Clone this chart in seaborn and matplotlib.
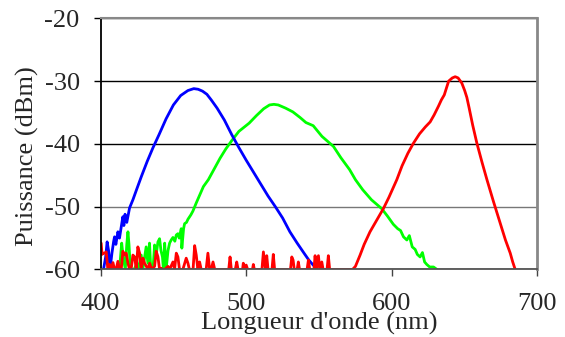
import matplotlib
matplotlib.use("Agg")
import matplotlib.pyplot as plt
import seaborn as sns
import pandas as pd

# ---- data ----
blue_nm = [402, 403.5, 404.5, 405.5, 406.5, 407.8, 409, 409.6, 410.5, 411.9, 413, 414, 415.3, 416, 416.8,
           418, 419.9, 422.2, 425, 428, 432, 436, 440, 445, 450, 455, 460, 464, 467, 470, 473, 476, 480,
           485, 490, 495, 500, 505, 510, 515, 520, 525, 530, 535, 540, 543, 546, 549]
blue_db = [-60, -58, -55.6, -57, -60, -57.4, -55.5, -54.8, -56, -54, -55, -53.5, -51.6, -53, -51.2,
           -52.5, -50.2, -48.9, -47.1, -45.2, -42.8, -40.6, -38.6, -36, -33.8, -32.3, -31.5, -31.2, -31.3,
           -31.6, -32.1, -33, -34.3, -36.2, -38.5, -40.6, -42.6, -44.5, -46.4, -48.3, -50, -51.8, -54,
           -55.8, -57.5, -58.5, -59.3, -60]

green_nm = [413, 414.5, 415.5, 417, 418, 418.8, 419.5, 420.5, 423, 425, 426, 427.9, 429, 431.3, 432.5,
            433.6, 434.5, 436, 437.1, 438, 439.4, 440.5, 441.5, 442.5, 443.2, 444, 445, 446.3, 447.4,
            448.5, 449.7, 451, 452, 453.1, 454, 455.4, 455.8, 457, 457.7, 459, 460, 462, 463.4, 465.7,
            470.6, 474, 478, 482, 486, 490, 495, 502, 507, 512, 516, 519, 522, 527, 532, 537, 541, 546,
            552, 559.9, 565, 571, 575, 580, 586, 593, 597, 601, 604, 606, 608, 610.3, 612, 614, 616,
            617.5, 619.4, 621, 622.5, 624, 626, 628.6, 631]
green_db = [-60, -55.8, -58, -60, -56, -54, -56, -60, -60, -59, -60, -57.7, -60, -56.4, -59,
            -55.8, -60, -60, -56.1, -58, -55.6, -55.1, -57, -58, -60, -55.8, -60, -57, -55.8,
            -55.3, -54.9, -55.5, -54.5, -54.3, -55, -53.5, -56.6, -53.5, -52.7, -52.5, -52, -51.3, -50.7,
            -49.4, -46.8, -45.7, -44, -42.3, -40.8, -39.5, -38, -36.7, -35.5, -34.4, -33.8, -33.7,
            -33.8, -34.3, -34.9, -35.8, -36.6, -37.1, -38.8, -40.4, -42.2, -44.1, -45.7, -47.3, -48.9,
            -50.3, -51.5, -52.8, -53.5, -53.8, -54.8, -55.3, -54.6, -56.4, -56.8, -57.6, -58, -57.3,
            -58.8, -59.2, -59.6, -59.6, -60]

red_nm = [399.5, 400.4, 401, 401.6, 402.7, 403.9, 405, 406.2, 407.3, 408.5, 409.6, 410.7, 411.9, 413,
          414.2, 415.3, 416.5, 417.6, 418.8, 419.9, 421, 422.2, 423.4, 424.5, 425.6, 426.8, 427.9,
          429.1, 430.2, 431.4, 432.5, 433.7, 435, 437.1, 438.2, 439.4, 440.5, 441.6, 442.8, 444,
          446.3, 447.4, 449.7, 450.8, 452, 453.1, 454.2, 456.5, 458.8, 460, 461, 463.5, 464.6,
          465.7, 466.8, 468, 469.1, 472.5, 473.7, 474.9, 476, 477.2, 478.4, 488, 488.9, 489.8,
          492.5, 493.5, 494.4, 497.5, 498, 499, 500, 501, 504.3, 504.9, 505.6, 510.8, 511.8, 512.6,
          513.2, 514.1, 515, 517.7, 518.6, 519.5, 530.4, 531.3, 532.2, 533, 535, 535.8, 536.6, 541.8,
          542.7, 543.6, 546.5, 547.3, 548.2, 549.6, 550.5, 551.9, 552.8, 555.5, 556.4, 557.3,
          573, 575, 578.2, 581, 585, 590, 594.2, 598, 603.4, 607, 611, 614.8, 619, 623, 626.3, 629,
          632, 634, 636, 639, 641.5, 643.5, 645.5, 648, 650, 651.5, 653, 655.5, 658.4, 662, 665.3,
          669.8, 674, 678, 681.3, 683, 684.7]
red_db = [-55.8, -55.8, -57.6, -57.4, -57.4, -57.2, -60, -59.2, -60, -58.9, -60, -60, -58.7, -60,
          -60, -57.1, -57.7, -57.4, -59, -60, -60, -57.7, -58, -60, -56.4, -57.4, -60,
          -58.2, -59, -59.5, -60, -59, -60, -59.5, -57.1, -58, -60, -59.8, -60, -60,
          -59.5, -60, -58.8, -60, -57.4, -58, -60, -60, -58.2, -59, -60, -60, -56.2,
          -57.7, -60, -58.8, -60, -60, -57.4, -60, -60, -58.8, -60, -60, -58, -60,
          -60, -58.8, -60, -60, -59, -60, -59.3, -60, -60, -59.2, -60, -60, -57.2, -58.8,
          -60, -57.8, -60, -60, -57.6, -60, -60, -58, -58.5, -60, -60, -58.8, -60, -60,
          -58.5, -60, -60, -57.8, -60, -57.8, -60, -58.8, -60, -60, -57.8, -60,
          -60, -59.5, -57.7, -56, -54, -52, -50.3, -48.5, -45.7, -43.5, -41.5, -39.9, -38.4, -37.3,
          -36.5, -35.4, -34, -33, -32.2, -30, -29.5, -29.3, -29.5, -30.3, -31.5, -32.6, -34.2,
          -37, -39.9, -43, -45.7, -49.2, -52.3, -55.3, -57.4, -58.8, -60]

x_ticks = [400, 500, 600, 700]
y_ticks = [-60, -50, -40, -30, -20]
x_label = "Longueur d'onde (nm)"
y_label = "Puissance (dBm)"

series = [("green", green_nm, green_db, "#00FF00"),
          ("blue", blue_nm, blue_db, "#0000FF"),
          ("red", red_nm, red_db, "#FF0000")]

# ---- plotting ----
sns.set_style("white")
plt.rcParams['font.family'] = ['Liberation Serif', 'DejaVu Serif']

fig = plt.figure(figsize=(5.65, 3.37), dpi=100)
ax = fig.add_axes([0.178, 0.2003, 0.7733, 0.7454])

for name, xs, ys, col in series:
    df = pd.DataFrame({"nm": xs, "db": ys})
    sns.lineplot(data=df, x="nm", y="db", ax=ax, color=col, linewidth=2.0,
                 estimator=None, sort=False, legend=False)

ax.set_xlim(400, 700)
ax.set_ylim(-60, -20)
ax.set_xticks(x_ticks)
ax.set_yticks(y_ticks)
ax.set_xticklabels([str(t) for t in x_ticks])
ax.set_yticklabels([str(t) for t in y_ticks])
ax.tick_params(axis='both', labelsize=19)
ax.tick_params(axis='y', direction='out', length=5, width=1, color='black', pad=10, left=True)
ax.tick_params(axis='x', direction='out', length=5, width=1, color='#444444', pad=12, bottom=True)

ax.set_xlabel(x_label, fontsize=19)
ax.set_ylabel(y_label, fontsize=19)
ax.xaxis.set_label_coords(0.5, -0.17)
ax.yaxis.set_label_coords(-0.14, 0.45)

ax.grid(axis='y', color='black', linewidth=1.0)
ax.grid(axis='x', visible=False)
for gl, t in zip(ax.get_ygridlines(), y_ticks):
    if t == -50:
        gl.set_color('#777777')
ax.set_axisbelow(True)

ax.spines['left'].set_color('black')
ax.spines['left'].set_linewidth(1.3)
ax.spines['bottom'].set_color('#555555')
ax.spines['bottom'].set_linewidth(1.3)
ax.spines['top'].set_color('#888888')
ax.spines['top'].set_linewidth(1.5)
ax.spines['right'].set_color('#888888')
ax.spines['right'].set_linewidth(2)

fig.savefig("out.png", dpi=100)
